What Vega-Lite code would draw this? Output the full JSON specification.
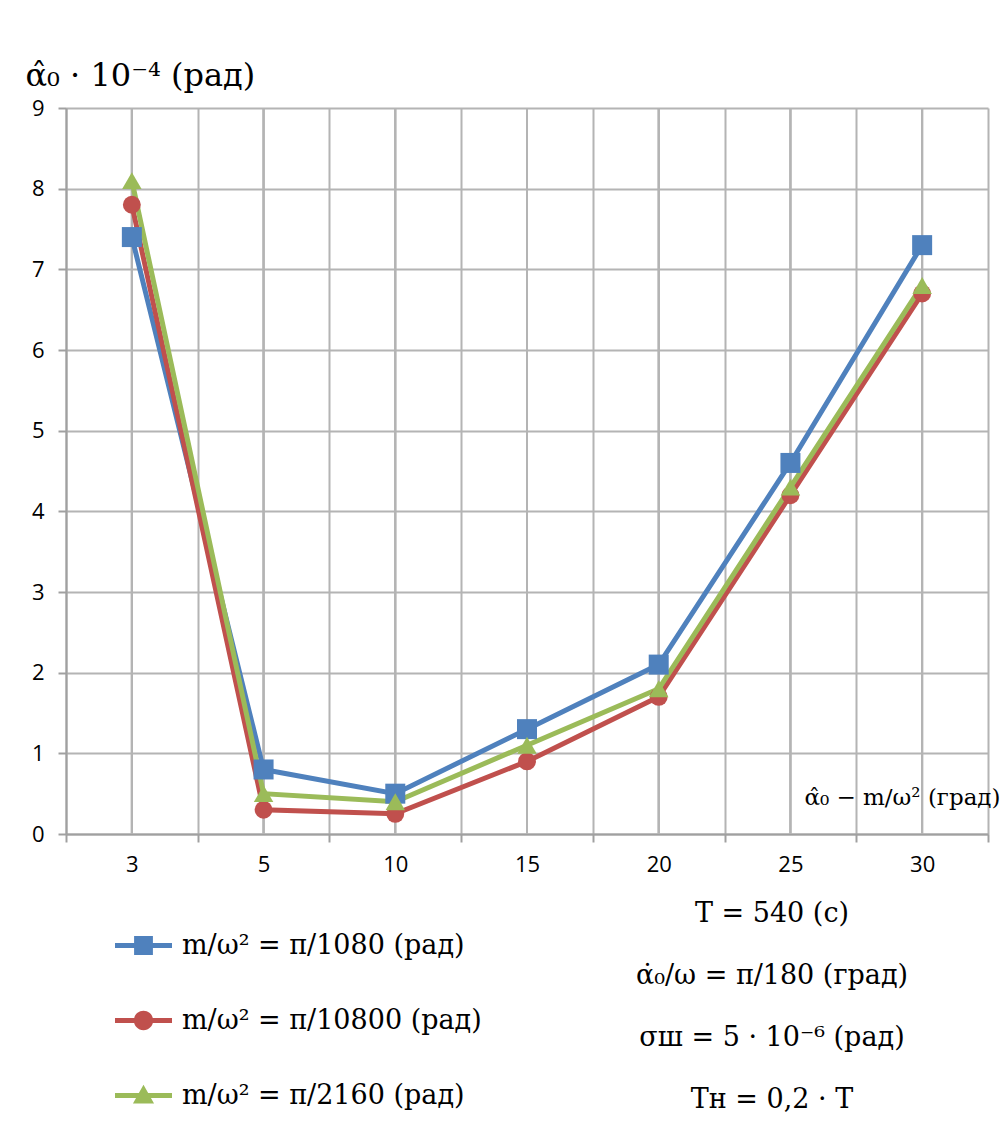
{
  "$schema": "https://vega.github.io/schema/vega-lite/v6.json",
  "width": 922,
  "height": 726,
  "autosize": "none",
  "padding": {"left": 66, "top": 108, "right": 18, "bottom": 301},
  "background": "white",
  "config": {
    "view": {"stroke": null},
    "axisX": {
      "tickBand": "extent", "grid": true, "gridColor": "#B4B4B4", "gridWidth": 2,
      "domainColor": "#A0A0A0", "domainWidth": 2, "tickColor": "#A0A0A0", "tickWidth": 2, "tickSize": 8,
      "labelAngle": 0, "labelFont": "Open Sans", "labelFontSize": 22, "labelColor": "black", "labelPadding": 12,
      "titleFont": "DejaVu Serif", "titleFontSize": 23, "titleFontWeight": "normal", "titleColor": "black",
      "titleX": 934, "titleY": -37, "titleAlign": "right", "titleBaseline": "middle", "titleAngle": 0
    },
    "axisY": {
      "grid": true, "gridColor": "#B4B4B4", "gridWidth": 2,
      "domainColor": "#A0A0A0", "domainWidth": 2, "tickColor": "#A0A0A0", "tickWidth": 2, "tickSize": 8,
      "labelFont": "Open Sans", "labelFontSize": 22, "labelColor": "black", "labelPadding": 14,
      "titleFont": "DejaVu Serif", "titleFontSize": 32, "titleFontWeight": "normal", "titleColor": "black",
      "titleX": -41, "titleY": -33, "titleAlign": "left", "titleBaseline": "middle", "titleAngle": 0
    }
  },
  "title": {
    "text": ["T = 540 (c)", "α̇₀/ω = π/180 (град)", "σш = 5 · 10⁻⁶ (рад)", "Tн = 0,2 · T"],
    "orient": "bottom", "anchor": "end", "align": "center", "dx": -228, "dy": -220, "offset": 12,
    "lineHeight": 62, "font": "DejaVu Serif", "fontSize": 27, "fontWeight": "normal", "color": "black"
  },
  "data": {
    "values": [
      {"x": 3, "s": "π/1080", "y": 7.4},
      {"x": 5, "s": "π/1080", "y": 0.8},
      {"x": 10, "s": "π/1080", "y": 0.5},
      {"x": 15, "s": "π/1080", "y": 1.3},
      {"x": 20, "s": "π/1080", "y": 2.1},
      {"x": 25, "s": "π/1080", "y": 4.6},
      {"x": 30, "s": "π/1080", "y": 7.3},
      {"x": 3, "s": "π/10800", "y": 7.8},
      {"x": 5, "s": "π/10800", "y": 0.3},
      {"x": 10, "s": "π/10800", "y": 0.25},
      {"x": 15, "s": "π/10800", "y": 0.9},
      {"x": 20, "s": "π/10800", "y": 1.7},
      {"x": 25, "s": "π/10800", "y": 4.2},
      {"x": 30, "s": "π/10800", "y": 6.7},
      {"x": 3, "s": "π/2160", "y": 8.1},
      {"x": 5, "s": "π/2160", "y": 0.5},
      {"x": 10, "s": "π/2160", "y": 0.4},
      {"x": 15, "s": "π/2160", "y": 1.1},
      {"x": 20, "s": "π/2160", "y": 1.8},
      {"x": 25, "s": "π/2160", "y": 4.3},
      {"x": 30, "s": "π/2160", "y": 6.8}
    ]
  },
  "layer": [
    {
      "mark": {"type": "rule", "color": "#B4B4B4", "strokeWidth": 2},
      "encoding": {
        "x": {"field": "x", "type": "ordinal", "title": "α̂₀ − m/ω² (град)", "scale": {"paddingInner": 0, "paddingOuter": 0}}
      }
    },
    {
      "mark": {"type": "line", "strokeWidth": 5},
      "encoding": {
        "x": {"field": "x", "type": "ordinal", "title": "α̂₀ − m/ω² (град)"},
        "y": {"field": "y", "type": "quantitative", "title": "α̂₀ · 10⁻⁴ (рад)", "scale": {"domain": [0, 9], "nice": false}, "axis": {"values": [0,1,2,3,4,5,6,7,8,9]}},
        "color": {"field": "s", "type": "nominal", "scale": {"domain": ["π/1080", "π/10800", "π/2160"], "range": ["#4F81BD", "#C0504D", "#9BBB59"]}}
      }
    },
    {
      "transform": [{"filter": "datum.s === 'π/1080'"}],
      "mark": {"type": "point", "filled": true, "opacity": 1, "shape": "square", "size": 400},
      "encoding": {
        "x": {"field": "x", "type": "ordinal", "title": "α̂₀ − m/ω² (град)"},
        "y": {"field": "y", "type": "quantitative", "title": "α̂₀ · 10⁻⁴ (рад)", "axis": {"values": [0,1,2,3,4,5,6,7,8,9]}},
        "color": {"field": "s", "type": "nominal"}
      }
    },
    {
      "transform": [{"filter": "datum.s === 'π/10800'"}],
      "mark": {"type": "point", "filled": true, "opacity": 1, "shape": "circle", "size": 320},
      "encoding": {
        "x": {"field": "x", "type": "ordinal", "title": "α̂₀ − m/ω² (град)"},
        "y": {"field": "y", "type": "quantitative", "title": "α̂₀ · 10⁻⁴ (рад)", "axis": {"values": [0,1,2,3,4,5,6,7,8,9]}},
        "color": {"field": "s", "type": "nominal"}
      }
    },
    {
      "transform": [{"filter": "datum.s === 'π/2160'"}],
      "mark": {"type": "point", "filled": true, "opacity": 1, "shape": "triangle-up", "size": 380},
      "encoding": {
        "x": {"field": "x", "type": "ordinal", "title": "α̂₀ − m/ω² (град)"},
        "y": {"field": "y", "type": "quantitative", "title": "α̂₀ · 10⁻⁴ (рад)", "axis": {"values": [0,1,2,3,4,5,6,7,8,9]}},
        "color": {"field": "s", "type": "nominal"}
      }
    },
    {
      "mark": {"type": "point", "filled": true, "opacity": 0},
      "encoding": {
        "x": {"field": "x", "type": "ordinal", "title": "α̂₀ − m/ω² (град)"},
        "y": {"field": "y", "type": "quantitative", "title": "α̂₀ · 10⁻⁴ (рад)", "axis": {"values": [0,1,2,3,4,5,6,7,8,9]}},
        "color": {"field": "s", "type": "nominal",
          "legend": {"orient": "none", "legendX": 49, "legendY": 809, "title": null, "padding": 0, "symbolSize": 3249, "symbolOpacity": 1, "symbolStrokeWidth": 0, "rowPadding": 33, "labelFont": "DejaVu Serif", "labelFontSize": 27, "labelColor": "black", "labelLimit": 0, "labelOffset": 10, "labelExpr": "'m/ω² = ' + datum.label + ' (рад)'"}},
        "shape": {"field": "s", "type": "nominal", "scale": {"domain": ["π/1080", "π/10800", "π/2160"], "range": [
          "M-1,-0.09H1V0.09H-1Z M-0.33,-0.33H0.33V0.33H-0.33Z",
          "M-1,-0.09H1V0.09H-1Z M-0.34,0A0.34,0.34 0 1,1 0.34,0A0.34,0.34 0 1,1 -0.34,0Z",
          "M-1,-0.09H1V0.09H-1Z M0,-0.38L0.37,0.28H-0.37Z"
        ]},
          "legend": {"orient": "none", "legendX": 49, "legendY": 809, "title": null, "padding": 0, "symbolSize": 3249, "symbolOpacity": 1, "symbolStrokeWidth": 0, "rowPadding": 33, "labelFont": "DejaVu Serif", "labelFontSize": 27, "labelColor": "black", "labelLimit": 0, "labelOffset": 10, "labelExpr": "'m/ω² = ' + datum.label + ' (рад)'"}}
      }
    }
  ]
}
